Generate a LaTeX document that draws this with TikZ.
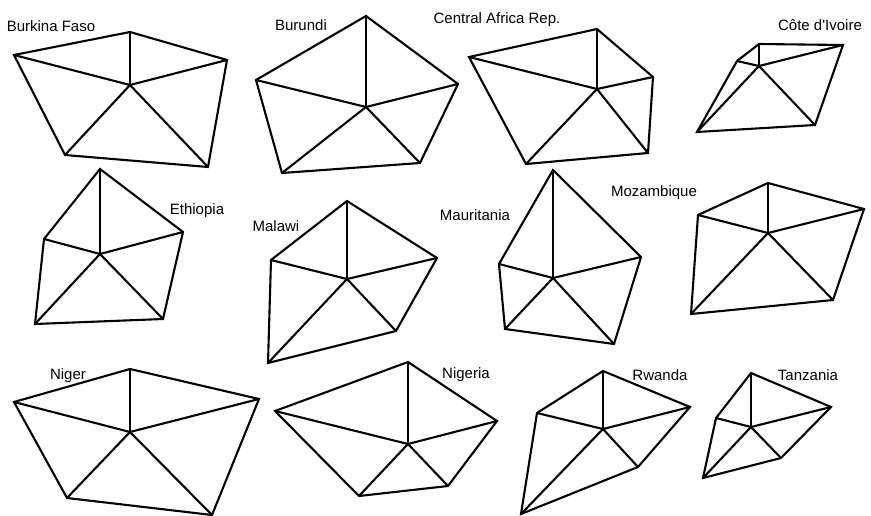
\documentclass[tikz,border=0pt]{standalone}
\usepackage{fontspec}
\setmainfont{Liberation Sans}
\usetikzlibrary{positioning}

\begin{document}
\begin{tikzpicture}[
  x=1pt, y=-1pt,
  edge/.style={line width=2.1pt,line join=miter},
  country/.style={font=\fontsize{15}{17}\selectfont,inner sep=0pt}]
\useasboundingbox (0,0) rectangle (871,516);
% Burkina Faso
\coordinate (bf-t) at (130,32);  \coordinate (bf-l) at (14,55);
\coordinate (bf-r) at (227,60);  \coordinate (bf-c) at (130,85);
\coordinate (bf-bl) at (65,155); \coordinate (bf-br) at (208,167);
\node[country] (bf) at (51,26) {Burkina Faso};
% Burundi
\coordinate (bu-t) at (366,16);  \coordinate (bu-l) at (256,80);
\coordinate (bu-r) at (458,84);  \coordinate (bu-c) at (366,107);
\coordinate (bu-bl) at (282,173); \coordinate (bu-br) at (420,163);
\node[country] (bu) at (301,25) {Burundi};
% Central Africa Rep.
\coordinate (car-t) at (597,29);  \coordinate (car-l) at (469,57);
\coordinate (car-r) at (653,77);  \coordinate (car-c) at (597,89);
\coordinate (car-bl) at (526,164); \coordinate (car-br) at (648,153);
\node[country] (car) at (497,20) {Central Africa Rep.};
% Cote d'Ivoire
\coordinate (ci-t) at (759,44);  \coordinate (ci-l) at (737,61);
\coordinate (ci-r) at (843,45);  \coordinate (ci-c) at (759,66);
\coordinate (ci-bl) at (697,132); \coordinate (ci-br) at (815,125);
\node[country] (ci) at (820,25) {Côte d\textquotesingle Ivoire};
% Ethiopia
\coordinate (et-t) at (100,169);  \coordinate (et-l) at (44,239);
\coordinate (et-r) at (183,232);  \coordinate (et-c) at (100,254);
\coordinate (et-bl) at (35,324);  \coordinate (et-br) at (163,319);
\node[country] (et) at (197,211) {Ethiopia};
% Malawi
\coordinate (mw-t) at (347,201);  \coordinate (mw-l) at (271,260);
\coordinate (mw-r) at (437,258);  \coordinate (mw-c) at (347,279);
\coordinate (mw-bl) at (268,363); \coordinate (mw-br) at (396,331);
\node[country] (mw) at (276,226) {Malawi};
% Mauritania
\coordinate (mr-t) at (553,170);  \coordinate (mr-l) at (499,264);
\coordinate (mr-r) at (641,257);  \coordinate (mr-c) at (553,278);
\coordinate (mr-bl) at (505,329); \coordinate (mr-br) at (614,344);
\node[country] (mr) at (475,215) {Mauritania};
% Mozambique
\coordinate (mz-t) at (768,183);  \coordinate (mz-l) at (698,215);
\coordinate (mz-r) at (864,209);  \coordinate (mz-c) at (768,233);
\coordinate (mz-bl) at (691,314); \coordinate (mz-br) at (833,300);
\node[country] (mz) at (654,193) {Mozambique};
% Niger
\coordinate (ne-t) at (130,369);  \coordinate (ne-l) at (14,402);
\coordinate (ne-r) at (259,399);  \coordinate (ne-c) at (130,432);
\coordinate (ne-bl) at (67,498);  \coordinate (ne-br) at (212,515);
\node[country] (ne) at (68,376) {Niger};
% Nigeria
\coordinate (ng-t) at (408,362);  \coordinate (ng-l) at (275,411);
\coordinate (ng-r) at (497,421);  \coordinate (ng-c) at (408,444);
\coordinate (ng-bl) at (359,496); \coordinate (ng-br) at (448,486);
\node[country] (ng) at (466,375) {Nigeria};
% Rwanda
\coordinate (rw-t) at (603,371);  \coordinate (rw-l) at (537,413);
\coordinate (rw-r) at (690,407);  \coordinate (rw-c) at (603,429);
\coordinate (rw-bl) at (521,514); \coordinate (rw-br) at (638,467);
\node[country] (rw) at (660,375) {Rwanda};
% Tanzania
\coordinate (tz-t) at (751,373);  \coordinate (tz-l) at (716,418);
\coordinate (tz-r) at (831,407);  \coordinate (tz-c) at (751,427);
\coordinate (tz-bl) at (703,478); \coordinate (tz-br) at (781,458);
\node[country] (tz) at (808,375) {Tanzania};
% outlines and spokes
\foreach \p in {bf,bu,car,ci,et,mw,mr,mz,ne,ng,rw,tz} {
  \draw[edge] (\p-l) -- (\p-t) -- (\p-r) -- (\p-br) -- (\p-bl) -- cycle;
  \foreach \v in {t,l,r,bl,br}
    \draw[edge] (\p-c) -- (\p-\v);
}
\end{tikzpicture}
\end{document}
